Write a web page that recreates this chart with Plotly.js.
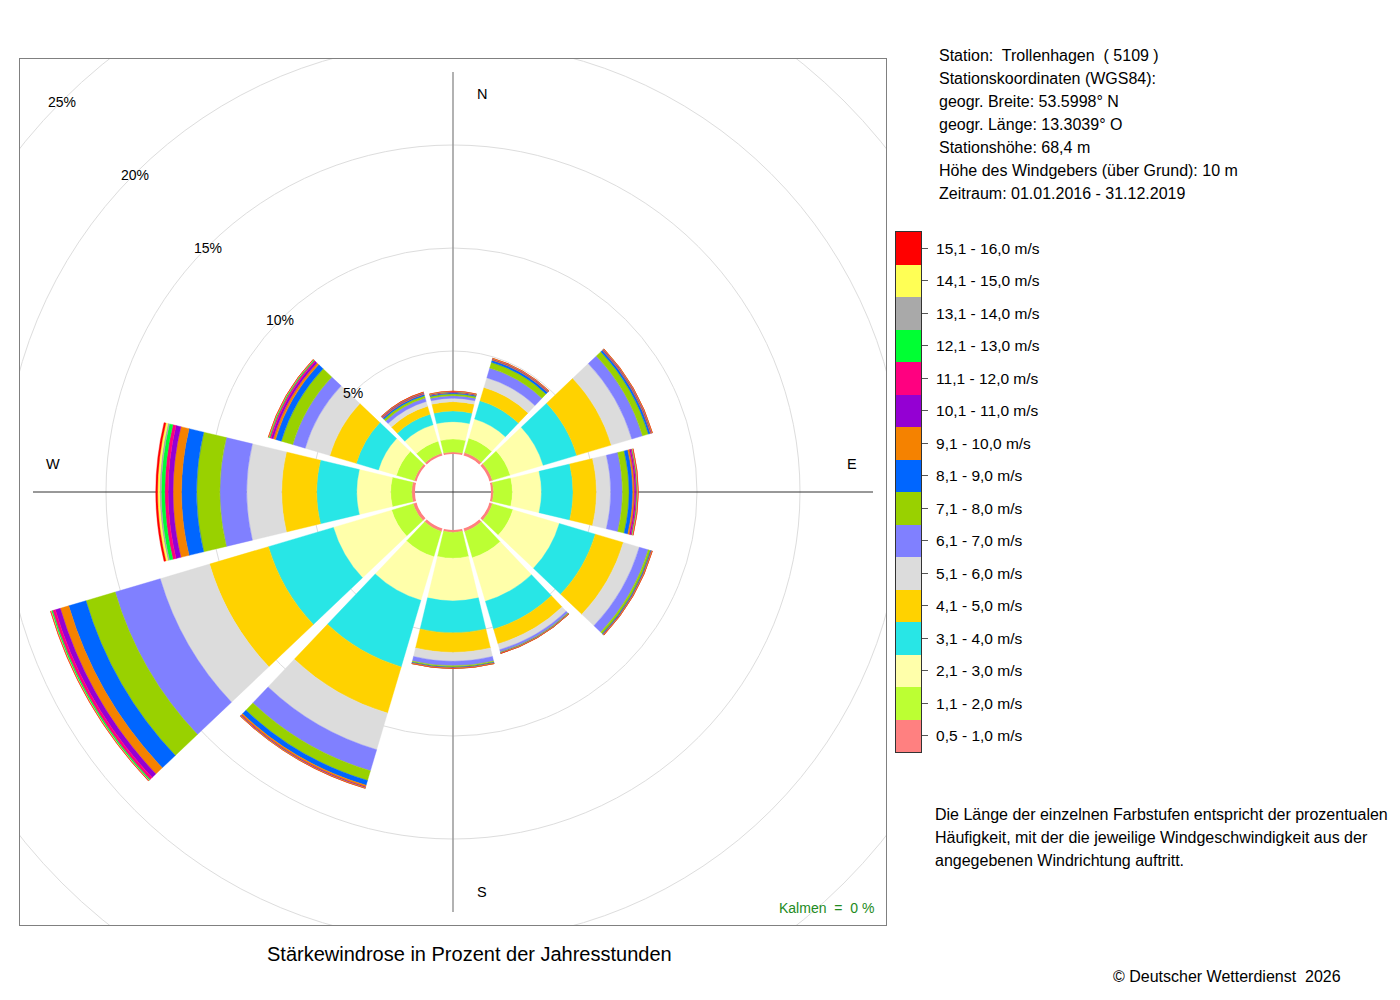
<!DOCTYPE html>
<html>
<head>
<meta charset="utf-8">
<script src="https://cdn.plot.ly/plotly-3.0.1.min.js"></script>
<style>html,body{margin:0;padding:0;background:#fff;}</style>
</head>
<body>
<div id="chart" style="width:1400px;height:1000px;"></div>
<script>
// ---------------- data ----------------
const directions = [0, 30, 60, 90, 120, 150, 180, 210, 240, 270, 300, 330];
const speedClasses = [
  '0,5 - 1,0 m/s', '1,1 - 2,0 m/s', '2,1 - 3,0 m/s', '3,1 - 4,0 m/s',
  '4,1 - 5,0 m/s', '5,1 - 6,0 m/s', '6,1 - 7,0 m/s', '7,1 - 8,0 m/s',
  '8,1 - 9,0 m/s', '9,1 - 10,0 m/s', '10,1 - 11,0 m/s', '11,1 - 12,0 m/s',
  '12,1 - 13,0 m/s', '13,1 - 14,0 m/s', '14,1 - 15,0 m/s', '15,1 - 16,0 m/s'
];
const classColors = [
  '#FF8080', '#BCFF33', '#FFFFAA', '#28E6E6', '#FFD200', '#DCDCDC', '#8080FF', '#99D100',
  '#0066FF', '#F58200', '#9400D3', '#FF0080', '#00FF33', '#A9A9A9', '#FFFF55', '#FF0000'
];
// percentage of hours per speed class (0,5-1,0 ... 15,1-16,0) for each direction
const d000 = [0.10, 0.63, 0.84, 0.52, 0.45, 0.17, 0.12, 0.09, 0.05, 0.03, 0.015, 0.01, 0.01, 0.005, 0.005, 0.005];
const d030 = [0.15, 0.73, 0.97, 0.92, 0.68, 0.49, 0.49, 0.29, 0.11, 0.04, 0.02, 0.015, 0.01, 0.005, 0.005, 0.005];
const d060 = [0.15, 0.90, 1.67, 1.70, 1.75, 1.04, 0.54, 0.30, 0.10, 0.04, 0.025, 0.015, 0.01, 0.005, 0.005, 0.005];
const d090 = [0.12, 0.92, 1.41, 1.53, 1.14, 0.69, 0.57, 0.32, 0.18, 0.09, 0.06, 0.05, 0.03, 0.02, 0.01, 0.01];
const d120 = [0.15, 1.04, 2.35, 1.82, 1.42, 0.81, 0.45, 0.11, 0.04, 0.02, 0.01, 0.01, 0.005, 0.005, 0.005, 0.005];
const d150 = [0.15, 1.33, 2.21, 1.41, 0.75, 0.29, 0.11, 0.04, 0.015, 0.005, 0.005, 0.003, 0.003, 0.002, 0.002, 0.002];
const d180 = [0.12, 1.25, 2.07, 1.55, 0.95, 0.43, 0.22, 0.07, 0.03, 0.015, 0.005, 0.005, 0.002, 0.002, 0.002, 0.002];
const d210 = [0.15, 1.28, 2.21, 3.37, 2.34, 1.85, 1.07, 0.49, 0.24, 0.09, 0.03, 0.015, 0.01, 0.005, 0.005, 0.005];
const d240 = [0.17, 1.09, 2.95, 3.29, 2.98, 2.50, 2.28, 1.48, 0.87, 0.43, 0.25, 0.14, 0.06, 0.02, 0.015, 0.01];
const d270 = [0.16, 1.02, 1.65, 1.94, 1.70, 1.70, 1.30, 1.13, 0.73, 0.41, 0.24, 0.16, 0.17, 0.08, 0.10, 0.09];
const d300 = [0.12, 0.90, 0.91, 1.12, 1.34, 1.25, 0.63, 0.58, 0.29, 0.12, 0.10, 0.07, 0.05, 0.015, 0.01, 0.005];
const d330 = [0.12, 0.61, 0.83, 0.53, 0.41, 0.24, 0.17, 0.12, 0.07, 0.04, 0.025, 0.02, 0.015, 0.005, 0.005, 0.005];
const byDirection = [d000, d030, d060, d090, d120, d150, d180, d210, d240, d270, d300, d330];

const pctRings = [5, 10, 15, 20, 25];
const compassLabels = [
  {t: 'N', deg: 0}, {t: 'E', deg: 90}, {t: 'S', deg: 180}, {t: 'W', deg: 270}
];
const stationLines = [
  'Station:\u00A0 Trollenhagen\u00A0 ( 5109 )',
  'Stationskoordinaten (WGS84):',
  'geogr. Breite: 53.5998° N',
  'geogr. Länge: 13.3039° O',
  'Stationshöhe: 68,4 m',
  'Höhe des Windgebers (über Grund): 10 m',
  'Zeitraum: 01.01.2016 - 31.12.2019'
];
const noteLines = [
  'Die Länge der einzelnen Farbstufen entspricht der prozentualen',
  'Häufigkeit, mit der die jeweilige Windgeschwindigkeit aus der',
  'angegebenen Windrichtung auftritt.'
];
const chartTitle = 'Stärkewindrose in Prozent der Jahresstunden';
const calmText = 'Kalmen\u00A0 = \u00A00 %';
const copyright = '© Deutscher Wetterdienst\u00A0 2026';

// ---------------- geometry ----------------
const W = 1400, H = 1000;
const BOX = {x0: 20, x1: 886, y0: 59, y1: 925};
const HALF = (BOX.x1 - BOX.x0) / 2;       // 433 px
const HOLE_PX = 38;                        // white centre (calm circle)
const PX_PER_PCT = 20.6;                   // radial scale
const SECTOR_WIDTH = 27;                   // degrees
const rPx = v => HOLE_PX + v * PX_PER_PCT;
const radialMax = (HALF - HOLE_PX) / PX_PER_PCT;
const FONT = 'Liberation Sans, Arial, Helvetica, sans-serif';
const px = (x, y) => ({x: x / W, y: 1 - y / H});

const domX = [BOX.x0 / W, BOX.x1 / W];
const domY = [1 - BOX.y1 / H, 1 - BOX.y0 / H];

// ---------------- traces ----------------
const traces = speedClasses.map((name, k) => ({
  type: 'barpolar',
  subplot: 'polar',
  name: name,
  r: byDirection.map(d => d[k]),
  theta: directions,
  width: directions.map(() => SECTOR_WIDTH),
  marker: {color: classColors[k], line: {width: 0.4, color: classColors[k]}},
  hoverinfo: 'skip',
  showlegend: false
}));

// invisible trace to establish the square frame subplot
traces.push({
  type: 'scatter', x: [0], y: [0], mode: 'markers',
  marker: {opacity: 0}, hoverinfo: 'skip', showlegend: false,
  xaxis: 'x', yaxis: 'y'
});

// colour key drawn as a heatmap column
traces.push({
  type: 'heatmap',
  x: [0],
  y: speedClasses.map((_, i) => i),
  z: speedClasses.map((_, i) => [i]),
  zmin: 0, zmax: speedClasses.length - 1,
  colorscale: classColors.map((c, i) => [i / (classColors.length - 1), c]),
  showscale: false,
  hoverinfo: 'skip',
  xaxis: 'x2', yaxis: 'y2'
});

// ---------------- shapes ----------------
const shapes = [];
pctRings.forEach(p => {
  const r = rPx(p);
  shapes.push({
    type: 'circle', xref: 'x', yref: 'y', layer: 'below',
    x0: -r, x1: r, y0: -r, y1: r,
    line: {color: '#DDDDDD', width: 1}
  });
});
const AX = 420;
shapes.push({type: 'line', xref: 'x', yref: 'y', layer: 'below',
  x0: 0, x1: 0, y0: -AX, y1: AX, line: {color: '#999999', width: 1.5}});
shapes.push({type: 'line', xref: 'x', yref: 'y', layer: 'below',
  x0: -AX, x1: AX, y0: 0, y1: 0, line: {color: '#333333', width: 1}});

// ---------------- annotations ----------------
const annotations = [];
pctRings.forEach(p => {
  const r = rPx(p);
  annotations.push({
    xref: 'x', yref: 'y', x: -r * Math.SQRT1_2, y: r * Math.SQRT1_2 - 1,
    text: p + '%', showarrow: false, xanchor: 'center', yanchor: 'middle',
    font: {family: FONT, size: 14, color: '#000'}
  });
});
const compassPos = {N: [29, 398], E: [399, 28], S: [29, -400], W: [-400, 28]};
compassLabels.forEach(c => {
  annotations.push({
    xref: 'x', yref: 'y', x: compassPos[c.t][0], y: compassPos[c.t][1],
    text: c.t, showarrow: false, xanchor: 'center', yanchor: 'middle',
    font: {family: FONT, size: 14.5, color: '#000'}
  });
});
stationLines.forEach((t, i) => {
  const p = px(937, 55 + i * 23.15);
  annotations.push({xref: 'paper', yref: 'paper', x: p.x, y: p.y, text: t,
    showarrow: false, xanchor: 'left', yanchor: 'middle',
    font: {family: FONT, size: 16, color: '#000'}});
});
noteLines.forEach((t, i) => {
  const p = px(933, 814 + i * 23);
  annotations.push({xref: 'paper', yref: 'paper', x: p.x, y: p.y, text: t,
    showarrow: false, xanchor: 'left', yanchor: 'middle',
    font: {family: FONT, size: 16, color: '#000'}});
});
{
  const p = px(470, 954);
  annotations.push({xref: 'paper', yref: 'paper', x: p.x, y: p.y, text: chartTitle,
    showarrow: false, xanchor: 'center', yanchor: 'middle',
    font: {family: FONT, size: 20, color: '#000'}});
  const q = px(1343, 976);
  annotations.push({xref: 'paper', yref: 'paper', x: q.x, y: q.y, text: copyright,
    showarrow: false, xanchor: 'right', yanchor: 'middle',
    font: {family: FONT, size: 16, color: '#000'}});
  const k = px(876, 908);
  annotations.push({xref: 'paper', yref: 'paper', x: k.x, y: k.y, text: calmText,
    showarrow: false, xanchor: 'right', yanchor: 'middle',
    font: {family: FONT, size: 14, color: '#228B22'}});
}

// ---------------- layout ----------------
const layout = {
  width: W, height: H,
  margin: {l: 0, r: 0, t: 0, b: 0, pad: 0},
  paper_bgcolor: '#ffffff',
  plot_bgcolor: '#ffffff',
  showlegend: false,
  hovermode: false,
  xaxis: {
    domain: domX, range: [-HALF, HALF], fixedrange: true,
    showgrid: false, zeroline: false, showticklabels: false, ticks: '',
    showline: true, mirror: true, linecolor: '#808080', linewidth: 1
  },
  yaxis: {
    domain: domY, range: [-HALF, HALF], fixedrange: true,
    showgrid: false, zeroline: false, showticklabels: false, ticks: '',
    showline: true, mirror: true, linecolor: '#808080', linewidth: 1
  },
  xaxis2: {
    domain: [896 / W, 921 / W], anchor: 'y2', range: [-0.5, 0.5],
    showgrid: false, zeroline: false, showticklabels: false, ticks: '',
    showline: true, mirror: true, linecolor: '#333333', linewidth: 1
  },
  yaxis2: {
    domain: [1 - 752 / H, 1 - 232 / H], anchor: 'x2', side: 'right',
    range: [-0.5, speedClasses.length - 0.5],
    tickmode: 'array', tickvals: speedClasses.map((_, i) => i), ticktext: speedClasses,
    ticks: 'outside', ticklen: 6, tickcolor: '#555555', tickwidth: 1,
    ticklabelstandoff: 5,
    tickfont: {family: FONT, size: 15.5, color: '#000'},
    showgrid: false, zeroline: false,
    showline: true, mirror: true, linecolor: '#333333', linewidth: 1
  },
  polar: {
    domain: {x: domX, y: domY},
    hole: HOLE_PX / HALF,
    bgcolor: 'rgba(0,0,0,0)',
    barmode: 'stack',
    radialaxis: {range: [0, radialMax], visible: false, showgrid: false},
    angularaxis: {
      rotation: 90, direction: 'clockwise', visible: false,
      showgrid: false, showline: false, showticklabels: false, ticks: ''
    }
  },
  shapes: shapes,
  annotations: annotations
};

Plotly.newPlot('chart', traces, layout, {staticPlot: true, displayModeBar: false});
</script>
</body>
</html>
